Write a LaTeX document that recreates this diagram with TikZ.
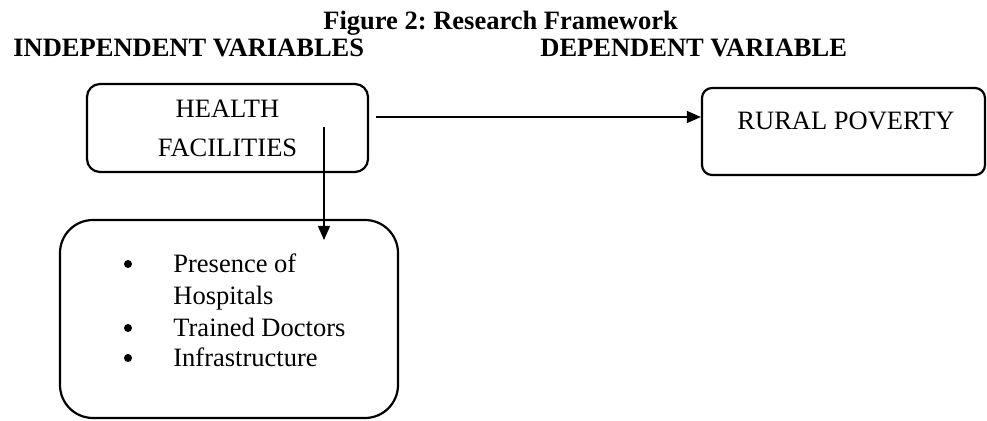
\documentclass[tikz,border=0pt]{standalone}
\usepackage{fontspec}
\setmainfont{Liberation Serif}
\usetikzlibrary{positioning,arrows.meta}

\tikzset{
  txt/.style={font=\fontsize{13.25}{15.5}\selectfont\frenchspacing},
  head/.style={font=\fontsize{13.25}{15.5}\selectfont\frenchspacing\bfseries, anchor=base west, inner sep=0pt},
  box/.style={draw, line width=1.1pt, inner sep=0pt},
  link/.style={line width=0.6pt, -{Triangle[length=7pt,width=6pt]}}
}

\begin{document}
\begin{tikzpicture}[x=0.5pt,y=-0.5pt,txt]
    \useasboundingbox (0,0) rectangle (987,421);

    % headings
    \node[head] (title) at (323,30) {Figure 2: Research Framework};
    \node[head] (indep) at (13,57) {INDEPENDENT VARIABLES};
    \node[head] (dep) at (540,57) {DEPENDENT VARIABLE};

    % boxes
    \node[box, rounded corners=6.5pt, minimum width=140.5pt, minimum height=44pt, align=center]
        (health) at (227.5,128) {HEALTH\\[4pt]FACILITIES};
    \node[box, rounded corners=5pt, minimum width=141.5pt, minimum height=43.5pt]
        (rural) at (843.5,131.5) {};
    \node[anchor=base, inner sep=0pt] (ruraltxt) at (846,130) {RURAL POVERTY};
    \node[box, rounded corners=16.5pt, minimum width=169pt, minimum height=99pt]
        (factors) at (229,319) {};

    % list in the lower box
    \foreach \t/\y in {Presence of/273,Hospitals/305,Trained Doctors/337,Infrastructure/367}
        \node[anchor=base west, inner sep=0pt] (item\y) at (173,\y) {\t};
    \foreach \y in {273,337,367}
        \fill (128,\y-9) circle (2pt);

    % arrows
    \coordinate (hstart) at (376,117);
    \coordinate (vstart) at (324,127);
    \coordinate (vend) at (324,240);
    \draw[link] (hstart) -- (hstart -| rural.west);
    \draw[link] (vstart) -- (vend);
\end{tikzpicture}
\end{document}
